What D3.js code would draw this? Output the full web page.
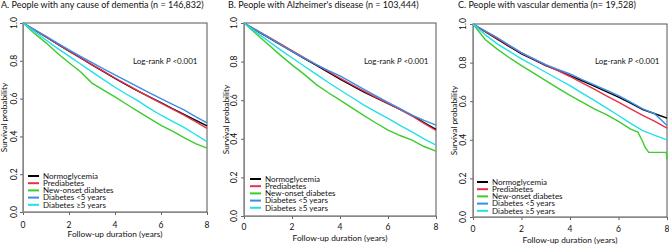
<!DOCTYPE html>
<html>
<head>
<meta charset="utf-8">
<script src="https://cdn.jsdelivr.net/npm/d3@7"></script>
<style>
  body { margin: 0; background: #fff; }
  svg { display: block; font-family: "Lato", "Open Sans", sans-serif; }
</style>
</head>
<body>
<svg id="chart" width="669" height="245"></svg>
<script>
// follow-up time points (years)
const times = [0, 0.5, 1, 1.5, 2, 2.5, 3, 3.5, 4, 4.5, 5, 5.5, 6, 6.5, 7, 7.5, 8];
const greenTimesC = [0, 0.5, 1, 1.5, 2, 2.5, 3, 3.5, 4, 4.5, 5, 5.5, 6, 6.5, 6.8, 7.0, 7.1, 7.25, 7.5, 7.97, 8];

const groups = ["Normoglycemia", "Prediabetes", "New-onset diabetes", "Diabetes <5 years", "Diabetes \u22655 years"];
const colors = ["#000000", "#e8304a", "#3ccc2c", "#3a8ee8", "#22e0ea"];

const titles = [
  "A. People with any cause of  dementia (n = 146,832)",
  "B. People with Alzheimer's disease (n = 103,444)",
  "C. People with vascular dementia (n= 19,528)"
];

const xTicks = [0, 2, 4, 6, 8];
const yTicks = [0.0, 0.2, 0.4, 0.6, 0.8, 1.0];

// Panel A survival
const normoA = [1, .963, .927, .888, .851, .815, .778, .742, .707, .672, .640, .609, .579, .547, .517, .486, .456];
const preA   = [1, .964, .928, .889, .853, .817, .780, .745, .709, .675, .641, .608, .576, .544, .512, .478, .442];
const newA   = [1, .945, .895, .840, .790, .742, .682, .645, .609, .570, .532, .495, .458, .428, .393, .362, .338];
const dm5A   = [1, .965, .930, .893, .858, .824, .790, .757, .726, .694, .662, .630, .600, .570, .540, .505, .472];
const dm5pA  = [1, .955, .910, .866, .825, .783, .741, .700, .660, .623, .588, .548, .512, .480, .448, .410, .372];

// Panel B survival
const normoB = [1, .962, .925, .889, .853, .817, .781, .745, .709, .675, .642, .612, .582, .552, .521, .484, .449];
const preB   = [1, .965, .930, .893, .857, .821, .785, .750, .714, .680, .647, .615, .583, .552, .518, .480, .443];
const newB   = [1, .944, .890, .835, .783, .735, .682, .640, .600, .560, .520, .482, .445, .417, .393, .360, .336];
const dm5B   = [1, .963, .927, .890, .853, .819, .786, .755, .726, .691, .656, .622, .589, .556, .523, .495, .471];
const dm5pB  = [1, .953, .908, .862, .820, .777, .735, .693, .653, .614, .575, .540, .506, .470, .436, .400, .367];

// Panel C survival
const normoC = [1, .960, .922, .883, .845, .815, .785, .760, .733, .706, .678, .650, .621, .590, .557, .535, .512];
const preC   = [1, .962, .925, .887, .850, .818, .787, .758, .728, .695, .662, .628, .595, .560, .526, .495, .460];
const newC   = [1, .920, .870, .825, .784, .745, .707, .668, .630, .595, .560, .530, .495, .455, .440, .390, .360, .335, .335, .335, .300];
const dm5C   = [1, .965, .930, .890, .850, .820, .790, .765, .741, .712, .685, .657, .629, .595, .560, .534, .474];
const dm5pC  = [1, .945, .897, .858, .819, .785, .750, .715, .681, .642, .604, .565, .526, .485, .448, .423, .400];

const panels = [
  { title: titles[0], series: [normoA, preA, newA, dm5A, dm5pA], newTimes: times,
    x0: 23, x1: 207, y0: 212, y1: 23, titleX: 1, ytitleX: 4.5, ytickX: 14, xtickY: 228, xtitleY: 237, legX: 28, legY: 176, logX: 133 },
  { title: titles[1], series: [normoB, preB, newB, dm5B, dm5pB], newTimes: times,
    x0: 244, x1: 436, y0: 216, y1: 23, titleX: 228, ytitleX: 226, ytickX: 234.5, xtickY: 230, xtitleY: 241, legX: 250, legY: 179, logX: 364 },
  { title: titles[2], series: [normoC, preC, newC, dm5C, dm5pC], newTimes: greenTimesC,
    x0: 473, x1: 667, y0: 217, y1: 24, titleX: 458, ytitleX: 454.5, ytickX: 463.5, xtickY: 232, xtitleY: 243, legX: 477, legY: 182, logX: 595 }
];

const svg = d3.select("#chart");

panels.forEach(p => {
  const x = d3.scaleLinear().domain([0, 8]).range([p.x0, p.x1]);
  const y = d3.scaleLinear().domain([0, 1]).range([p.y0, p.y1]);
  const g = svg.append("g");

  g.append("text")
    .attr("x", p.titleX).attr("y", 8)
    .attr("font-size", 9).attr("fill", "#111")
    .text(p.title);

  // frame
  g.append("rect")
    .attr("x", p.x0).attr("y", p.y1)
    .attr("width", p.x1 - p.x0).attr("height", p.y0 - p.y1)
    .attr("fill", "none").attr("stroke", "#555").attr("stroke-width", 1);

  // axes
  g.append("g")
    .attr("transform", `translate(0,${p.y0})`)
    .call(d3.axisBottom(x).tickValues(xTicks).tickSize(3).tickFormat(""))
    .call(a => a.select(".domain").attr("stroke", "#888"))
    .call(a => a.selectAll(".tick line").attr("stroke", "#666"));

  g.selectAll(".xlab").data(xTicks).join("text")
    .attr("class", "xlab")
    .attr("x", d => x(d)).attr("y", p.xtickY)
    .attr("text-anchor", "middle").attr("font-size", 8.5).attr("fill", "#111")
    .text(d => d);

  g.append("g")
    .attr("transform", `translate(${p.x0},0)`)
    .call(d3.axisLeft(y).tickValues(yTicks).tickSize(3).tickFormat(""))
    .call(a => a.select(".domain").attr("stroke", "#888"))
    .call(a => a.selectAll(".tick line").attr("stroke", "#666"));

  g.selectAll(".ylab").data(yTicks).join("text")
    .attr("class", "ylab")
    .attr("transform", d => `translate(${p.ytickX},${y(d)}) rotate(-90)`)
    .attr("text-anchor", "middle").attr("dy", "0.35em")
    .attr("font-size", 8.5).attr("fill", "#111")
    .text(d => d3.format(".1f")(d));

  g.append("text")
    .attr("x", (p.x0 + p.x1) / 2).attr("y", p.xtitleY)
    .attr("text-anchor", "middle").attr("font-size", 8.3).attr("fill", "#111")
    .text("Follow-up duration (years)");

  g.append("text")
    .attr("transform", `translate(${p.ytitleX},${(p.y0 + p.y1) / 2}) rotate(-90)`)
    .attr("text-anchor", "middle").attr("dy", "0.35em")
    .attr("font-size", 8.3).attr("fill", "#111")
    .text("Survival probability");

  // curves
  const line = d3.line().x(d => x(d[0])).y(d => y(d[1]));
  p.series.forEach((vals, i) => {
    const t = i === 2 ? p.newTimes : times;
    g.append("path")
      .datum(t.map((tt, k) => [tt, vals[k]]))
      .attr("d", line)
      .attr("fill", "none")
      .attr("stroke", colors[i])
      .attr("stroke-width", 1.4);
  });

  g.append("text")
    .attr("x", p.logX).attr("y", 61).attr("dy", "0.35em")
    .attr("font-size", 8).attr("fill", "#111")
    .call(t => {
      t.append("tspan").text("Log-rank ");
      t.append("tspan").attr("font-style", "italic").text("P");
      t.append("tspan").text(" <0.001");
    });

  // legend
  const leg = g.append("g");
  groups.forEach((name, i) => {
    const ly = p.legY + i * 7.2;
    leg.append("line")
      .attr("x1", p.legX).attr("x2", p.legX + 11)
      .attr("y1", ly).attr("y2", ly)
      .attr("stroke", colors[i]).attr("stroke-width", 2);
    leg.append("text")
      .attr("x", p.legX + 15).attr("y", ly).attr("dy", "0.35em")
      .attr("font-size", 8).attr("fill", "#111")
      .text(name);
  });
});
</script>
</body>
</html>
